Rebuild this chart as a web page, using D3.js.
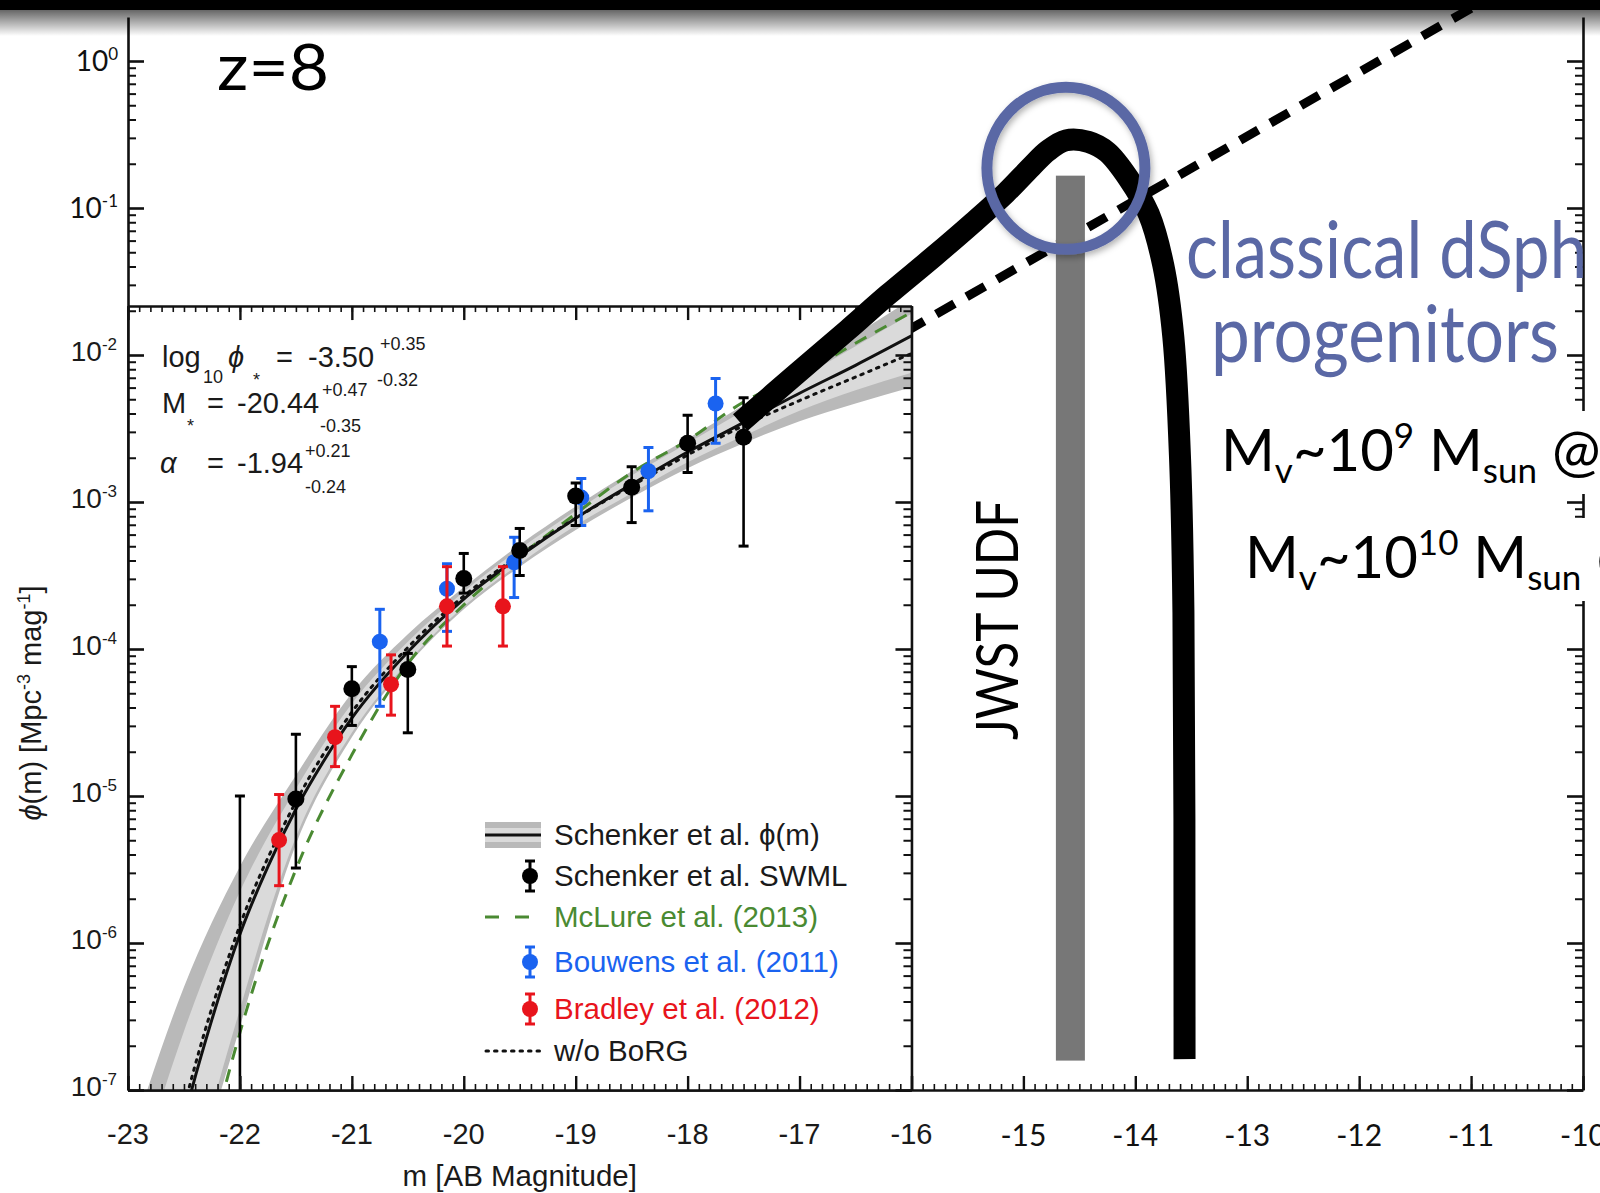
<!DOCTYPE html>
<html>
<head>
<meta charset="utf-8">
<script src="https://cdnjs.cloudflare.com/ajax/libs/d3/7.8.5/d3.min.js"></script>
<style>
  body { margin: 0; background: #fff; }
  svg { display: block; }
</style>
</head>
<body>
<div id="chart"></div>
<script>
// ---- data (log10 of phi) ----
// Schenker et al. SWML
const swmlM   = [-22.0, -21.5, -21.0, -20.5, -20.0, -19.5, -19.0, -18.5, -18.0, -17.5];
const swmlLog = [null, -5.02, -4.27, -4.14, -3.52, -3.33, -2.96, -2.90, -2.60, -2.56];
const swmlHi  = [-5.0, -4.58, -4.12, -4.03, -3.35, -3.18, -2.87, -2.76, -2.41, -2.29];
const swmlLo  = [-7.6, -5.49, -4.52, -4.57, -3.62, -3.50, -3.16, -3.14, -2.80, -3.30];

// Bouwens et al. (2011)
const bouwensM   = [-20.75, -20.15, -19.55, -18.95, -18.35, -17.75];
const bouwensLog = [-3.95, -3.59, -3.41, -2.97, -2.79, -2.33];
const bouwensHi  = [-3.73, -3.42, -3.24, -2.84, -2.63, -2.16];
const bouwensLo  = [-4.39, -3.88, -3.65, -3.16, -3.06, -2.60];

// Bradley et al. (2012)
const bradleyM   = [-21.65, -21.15, -20.65, -20.15, -19.65];
const bradleyLog = [-5.30, -4.60, -4.24, -3.71, -3.71];
const bradleyHi  = [-4.99, -4.39, -4.04, -3.44, -3.44];
const bradleyLo  = [-5.61, -4.80, -4.45, -3.98, -3.98];

// Schenker et al. phi(m) best fit
const fitM   = [-23, -22.75, -22.5, -22.25, -22, -21.75, -21.5, -21.25, -21, -20.5, -20, -19.5, -19, -18.5, -18, -17.5, -17, -16.5, -16];
const fitLog = [-9.1, -8.05, -7.2, -6.52, -5.94, -5.48, -5.09, -4.76, -4.47, -4.02, -3.66, -3.37, -3.11, -2.88, -2.66, -2.46, -2.26, -2.07, -1.87];

// uncertainty bands
const bandM   = [-23, -22.5, -22, -21.5, -21, -20.5, -20, -19.5, -19, -18.5, -18, -17.5, -17, -16.5, -16];
const outerHi = [-7.4, -6.3, -5.48, -4.86, -4.30, -3.90, -3.58, -3.29, -3.03, -2.79, -2.57, -2.34, -2.10, -1.86, -1.62];
const innerHi = [-7.8, -6.6, -5.65, -4.95, -4.37, -3.95, -3.61, -3.32, -3.06, -2.82, -2.60, -2.38, -2.16, -1.94, -1.72];
const innerLo = [-10.0, -7.9, -6.45, -5.28, -4.57, -4.09, -3.71, -3.42, -3.16, -2.94, -2.73, -2.55, -2.38, -2.24, -2.12];
const outerLo = [-10.4, -8.0, -6.57, -5.33, -4.60, -4.11, -3.73, -3.44, -3.19, -2.97, -2.77, -2.60, -2.45, -2.33, -2.22];

// McLure et al. (2013)
const mclureM   = [-22.4, -22.2, -22, -21.5, -21, -20.5, -20, -19.5, -19, -18.5, -18, -17.5, -17, -16.5, -16];
const mclureLog = [-7.86, -7.18, -6.61, -5.50, -4.72, -4.10, -3.70, -3.37, -3.08, -2.80, -2.58, -2.32, -2.14, -1.92, -1.71];

// w/o BoRG
const noBorgM   = [-23, -22.5, -22, -21.5, -21, -20.5, -20, -19.5, -19, -18.5, -18, -17.5, -17, -16.5, -16];
const noBorgLog = [-8.9, -7.12, -5.88, -5.04, -4.43, -3.99, -3.64, -3.36, -3.11, -2.89, -2.68, -2.48, -2.31, -2.15, -1.99];

// hand drawn extension of the luminosity function
const handM   = [-17.53, -17.03, -16.57, -16.21, -15.80, -15.45, -15.16, -14.93, -14.78, -14.62, -14.42, -14.25, -14.06, -13.88, -13.75, -13.66, -13.60, -13.57, -13.56];
const handLog = [-2.46, -2.13, -1.83, -1.59, -1.33, -1.10, -0.90, -0.72, -0.61, -0.54, -0.55, -0.62, -0.80, -1.04, -1.39, -1.88, -2.71, -3.75, -6.79];

// power-law extrapolation (dashed)
const dashM   = [-16.05, -10.4];
const dashLog = [-1.84, 0.62];

// JWST UDF limit and circled turnover
const jwstM = -14.58;
const jwstTopLog = -0.78;
const jwstBottomLog = -6.80;
const circleM = -14.62;
const circleLog = -0.73;

// tick labels
const insetXTicks = [-23, -22, -21, -20, -19, -18, -17, -16];
const outerXTicks = [-15, -14, -13, -12, -11, -10];
const insetYTicks = [-7, -6, -5, -4, -3, -2];
const outerYTicks = [0, -1];

// ---- setup ----
const W = 1600, H = 1193;
const p = v => Math.pow(10, v);
const svg = d3.select('#chart').append('svg').attr('width', W).attr('height', H)
  .style('font-family', 'Liberation Sans, Arial, sans-serif');

const defs = svg.append('defs');
const grad = defs.append('linearGradient').attr('id', 'topShade').attr('x1', 0).attr('x2', 0).attr('y1', 0).attr('y2', 1);
grad.append('stop').attr('offset', 0).attr('stop-color', '#000').attr('stop-opacity', 0.6);
grad.append('stop').attr('offset', 1).attr('stop-color', '#000').attr('stop-opacity', 0);
defs.append('filter').attr('id', 'soft').attr('x', '-20%').attr('y', '-20%').attr('width', '140%').attr('height', '140%')
  .append('feDropShadow').attr('dx', 2).attr('dy', 3).attr('stdDeviation', 3).attr('flood-opacity', 0.3);

const x = d3.scaleLinear().domain([-23, -10]).range([128, 1583]);
const y = d3.scaleLog().domain([1e-7, 1]).range([1090, 61]);
const yOuter = d3.scaleLog().domain([1e-7, p(0.3)]).range([y(1e-7), y(p(0.3))]);

const insetTop = p(-1.667);
const xi = d3.scaleLinear().domain([-23, -16]).range([x(-23), x(-16)]);
const yi = d3.scaleLog().domain([1e-7, insetTop]).range([y(1e-7), y(insetTop)]);

function logTicks(lo, hi, maxVal) {
  const major = [], minor = [];
  for (let k = lo; k <= hi; k++) {
    major.push(p(k));
    for (let j = 2; j <= 9; j++) if (j * p(k) <= maxVal) minor.push(j * p(k));
  }
  return { major: major.filter(v => v <= maxVal), minor };
}
const tenths = (a, b) => d3.range(Math.round(a * 10), Math.round(b * 10) + 1).map(i => i / 10);

function styleAxis(g, w) {
  g.selectAll('line').attr('stroke', '#111').attr('stroke-width', w);
  g.selectAll('path').attr('stroke', '#111').attr('stroke-width', 2.6);
}

// ---- outer frame ----
const outer = svg.append('g');
const oy = logTicks(-7, 0, p(0.3));
outer.append('g').attr('transform', `translate(${x(-23)},0)`)
  .call(d3.axisLeft(yOuter).tickValues(oy.major).tickSize(-16).tickSizeOuter(0).tickFormat(''))
  .call(g => styleAxis(g, 2.6));
outer.append('g').attr('transform', `translate(${x(-23)},0)`)
  .call(d3.axisLeft(yOuter).tickValues(oy.minor).tickSize(-8).tickSizeOuter(0).tickFormat(''))
  .call(g => g.select('.domain').remove()).call(g => styleAxis(g, 2));
outer.append('g').attr('transform', `translate(${x(-10)},0)`)
  .call(d3.axisRight(yOuter).tickValues(oy.major).tickSize(-16).tickSizeOuter(0).tickFormat(''))
  .call(g => styleAxis(g, 2.6));
outer.append('g').attr('transform', `translate(${x(-10)},0)`)
  .call(d3.axisRight(yOuter).tickValues(oy.minor).tickSize(-8).tickSizeOuter(0).tickFormat(''))
  .call(g => g.select('.domain').remove()).call(g => styleAxis(g, 2));
outer.append('g').attr('transform', `translate(0,${y(1e-7)})`)
  .call(d3.axisBottom(x).tickValues(d3.range(-23, -9, 1)).tickSize(-14).tickSizeOuter(0).tickFormat(''))
  .call(g => styleAxis(g, 2.4));
outer.append('g').attr('transform', `translate(0,${y(1e-7)})`)
  .call(d3.axisBottom(x).tickValues(tenths(-23, -10)).tickSize(-6).tickSizeOuter(0).tickFormat(''))
  .call(g => g.select('.domain').remove()).call(g => styleAxis(g, 1.6));

// outer y labels
outer.selectAll('.oylab').data(outerYTicks).join('text')
  .attr('x', 118).attr('y', d => y(p(d)) + 10)
  .attr('text-anchor', 'end').style('font-family', 'Lato, sans-serif').style('font-size', '28px').attr('fill', '#111')
  .call(t => {
    t.append('tspan').text('10');
    t.append('tspan').attr('dy', -11).style('font-size', '17px').text(d => d);
  });

// outer x labels
outer.selectAll('.oxlab').data(outerXTicks).join('text')
  .attr('x', d => x(d)).attr('y', 1146).attr('text-anchor', 'middle')
  .style('font-family', 'Lato, sans-serif').style('font-size', '30px').attr('fill', '#111')
  .text(d => `${d}`);

// ---- dashed extrapolation and JWST limit ----
const lineXY = d3.line().x(d => x(d[0])).y(d => y(p(d[1])));
svg.append('path')
  .attr('d', lineXY(dashM.map((m, i) => [m, dashLog[i]])))
  .attr('fill', 'none').attr('stroke', '#000').attr('stroke-width', 9).attr('stroke-dasharray', '21 14');

svg.append('rect')
  .attr('x', x(jwstM) - 14.5).attr('width', 29)
  .attr('y', y(p(jwstTopLog))).attr('height', y(p(jwstBottomLog)) - y(p(jwstTopLog)))
  .attr('fill', '#777');

// ---- inset: Schenker et al. figure ----
const inset = svg.append('g');
const [ix0, ix1] = xi.range();
const [iy1, iy0] = yi.range();
inset.append('rect').attr('x', ix0).attr('y', iy0).attr('width', ix1 - ix0).attr('height', iy1 - iy0).attr('fill', '#fff');
defs.append('clipPath').attr('id', 'insetClip')
  .append('rect').attr('x', ix0).attr('y', iy0).attr('width', ix1 - ix0).attr('height', iy1 - iy0);
const plot = inset.append('g').attr('clip-path', 'url(#insetClip)');

const band = (hi, lo) => d3.area().curve(d3.curveMonotoneX)
  .x((d, i) => xi(bandM[i])).y0((d, i) => yi(p(lo[i]))).y1((d, i) => yi(p(hi[i])));
plot.append('path').attr('d', band(outerHi, outerLo)(bandM)).attr('fill', '#b9b9b9');
plot.append('path').attr('d', band(innerHi, innerLo)(bandM)).attr('fill', '#dadada');

const curve = (ms, vs) => d3.line().curve(d3.curveMonotoneX).x(d => xi(d[0])).y(d => yi(p(d[1])))(ms.map((m, i) => [m, vs[i]]));
plot.append('path').attr('d', curve(mclureM, mclureLog))
  .attr('fill', 'none').attr('stroke', '#4a8a32').attr('stroke-width', 3).attr('stroke-dasharray', '13 10');
plot.append('path').attr('d', curve(noBorgM, noBorgLog))
  .attr('fill', 'none').attr('stroke', '#111').attr('stroke-width', 3).attr('stroke-dasharray', '2.5 6').attr('stroke-linecap', 'round');
plot.append('path').attr('d', curve(fitM, fitLog))
  .attr('fill', 'none').attr('stroke', '#111').attr('stroke-width', 3);

function drawPoints(ms, vals, his, los, color, r, bw) {
  const rows = ms.map((m, i) => ({ m, v: vals[i], hi: his[i], lo: los[i] }));
  const g = plot.append('g').selectAll('g').data(rows).join('g');
  g.append('line').attr('x1', d => xi(d.m)).attr('x2', d => xi(d.m))
    .attr('y1', d => yi(p(d.hi))).attr('y2', d => yi(p(d.lo))).attr('stroke', color).attr('stroke-width', bw);
  g.append('line').attr('x1', d => xi(d.m) - 5).attr('x2', d => xi(d.m) + 5)
    .attr('y1', d => yi(p(d.hi))).attr('y2', d => yi(p(d.hi))).attr('stroke', color).attr('stroke-width', 3);
  g.append('line').attr('x1', d => xi(d.m) - 5).attr('x2', d => xi(d.m) + 5)
    .attr('y1', d => yi(p(d.lo))).attr('y2', d => yi(p(d.lo))).attr('stroke', color).attr('stroke-width', 3);
  g.filter(d => d.v !== null).append('circle')
    .attr('cx', d => xi(d.m)).attr('cy', d => yi(p(d.v))).attr('r', r).attr('fill', color);
}
drawPoints(bouwensM, bouwensLog, bouwensHi, bouwensLo, '#1a63f0', 8, 3);
drawPoints(bradleyM, bradleyLog, bradleyHi, bradleyLo, '#e8141c', 8, 3);
drawPoints(swmlM, swmlLog, swmlHi, swmlLo, '#000', 8.5, 2.6);

// inset axes
const iyt = logTicks(-7, -2, insetTop);
const iAxes = inset.append('g');
iAxes.append('g').attr('transform', `translate(0,${iy1})`)
  .call(d3.axisBottom(xi).tickValues(insetXTicks).tickSize(-14).tickSizeOuter(0).tickFormat(''))
  .call(g => styleAxis(g, 2.4));
iAxes.append('g').attr('transform', `translate(0,${iy1})`)
  .call(d3.axisBottom(xi).tickValues(tenths(-23, -16)).tickSize(-6).tickSizeOuter(0).tickFormat(''))
  .call(g => g.select('.domain').remove()).call(g => styleAxis(g, 1.6));
iAxes.append('g').attr('transform', `translate(0,${iy0})`)
  .call(d3.axisTop(xi).tickValues(insetXTicks).tickSize(-14).tickSizeOuter(0).tickFormat(''))
  .call(g => styleAxis(g, 2.4));
iAxes.append('g').attr('transform', `translate(0,${iy0})`)
  .call(d3.axisTop(xi).tickValues(tenths(-23, -16)).tickSize(-6).tickSizeOuter(0).tickFormat(''))
  .call(g => g.select('.domain').remove()).call(g => styleAxis(g, 1.6));
iAxes.append('g').attr('transform', `translate(${ix0},0)`)
  .call(d3.axisLeft(yi).tickValues(iyt.major).tickSize(-16).tickSizeOuter(0).tickFormat(''))
  .call(g => styleAxis(g, 2.6));
iAxes.append('g').attr('transform', `translate(${ix0},0)`)
  .call(d3.axisLeft(yi).tickValues(iyt.minor).tickSize(-8).tickSizeOuter(0).tickFormat(''))
  .call(g => g.select('.domain').remove()).call(g => styleAxis(g, 2));
iAxes.append('g').attr('transform', `translate(${ix1},0)`)
  .call(d3.axisRight(yi).tickValues(iyt.major).tickSize(-16).tickSizeOuter(0).tickFormat(''))
  .call(g => styleAxis(g, 2.6));
iAxes.append('g').attr('transform', `translate(${ix1},0)`)
  .call(d3.axisRight(yi).tickValues(iyt.minor).tickSize(-8).tickSizeOuter(0).tickFormat(''))
  .call(g => g.select('.domain').remove()).call(g => styleAxis(g, 2));

// inset tick labels
inset.selectAll('.ixlab').data(insetXTicks).join('text')
  .attr('x', d => xi(d)).attr('y', 1144).attr('text-anchor', 'middle')
  .style('font-size', '29px').attr('fill', '#1a1a1a').text(d => `${d}`);
inset.selectAll('.iylab').data(insetYTicks).join('text')
  .attr('x', 117).attr('y', d => yi(p(d)) + 6).attr('text-anchor', 'end')
  .style('font-size', '28px').attr('fill', '#1a1a1a')
  .call(t => {
    t.append('tspan').text('10');
    t.append('tspan').attr('dy', -11).style('font-size', '17px').text(d => `${d}`);
  });

inset.append('text').attr('x', (ix0 + ix1) / 2).attr('y', 1186).attr('text-anchor', 'middle')
  .style('font-size', '29.5px').attr('fill', '#1a1a1a').text('m [AB Magnitude]');

const yt = inset.append('text').attr('transform', 'translate(41,703) rotate(-90)')
  .attr('text-anchor', 'middle').style('font-size', '29px').attr('fill', '#1a1a1a');
yt.append('tspan').style('font-style', 'italic').text('ϕ');
yt.append('tspan').text('(m) [Mpc');
yt.append('tspan').attr('dy', -11).style('font-size', '18px').text('-3');
yt.append('tspan').attr('dy', 11).text(' mag');
yt.append('tspan').attr('dy', -11).style('font-size', '18px').text('-1');
yt.append('tspan').attr('dy', 11).text(']');

// fitted parameters
const par = inset.append('g').attr('fill', '#1a1a1a').style('font-size', '29px');
function parText(px, py, s, size, style) {
  const t = par.append('text').attr('x', px).attr('y', py).text(s);
  if (size) t.style('font-size', size + 'px');
  if (style) t.style('font-style', style);
  return t;
}
parText(162, 367, 'log');
parText(203, 383, '10', 18);
parText(228, 367, 'ϕ', 29, 'italic');
parText(253, 386, '*', 18);
parText(276, 367, '=');
parText(308, 367, '-3.50');
parText(380, 350, '+0.35', 18);
parText(377, 386, '-0.32', 18);
parText(162, 413, 'M');
parText(187, 432, '*', 18);
parText(207, 413, '=');
parText(237, 413, '-20.44');
parText(322, 396, '+0.47', 18);
parText(320, 432, '-0.35', 18);
parText(160, 473, 'α', 29, 'italic');
parText(207, 473, '=');
parText(237, 473, '-1.94');
parText(305, 457, '+0.21', 18);
parText(305, 493, '-0.24', 18);

// legend
const leg = inset.append('g').style('font-size', '29.5px');
const legRows = [
  { label: 'Schenker et al. ϕ(m)', color: '#1a1a1a', kind: 'band', y: 835 },
  { label: 'Schenker et al. SWML', color: '#1a1a1a', kind: 'dot', sym: '#000', y: 876 },
  { label: 'McLure et al. (2013)', color: '#4a8a32', kind: 'dash', y: 917 },
  { label: 'Bouwens et al. (2011)', color: '#1a63f0', kind: 'dot', sym: '#1a63f0', y: 962 },
  { label: 'Bradley et al. (2012)', color: '#e8141c', kind: 'dot', sym: '#e8141c', y: 1009 },
  { label: 'w/o BoRG', color: '#1a1a1a', kind: 'dots', y: 1051 }
];
legRows.forEach(r => {
  const g = leg.append('g');
  if (r.kind === 'band') {
    g.append('rect').attr('x', 485).attr('y', r.y - 13).attr('width', 56).attr('height', 26).attr('fill', '#b9b9b9');
    g.append('rect').attr('x', 485).attr('y', r.y - 7).attr('width', 56).attr('height', 14).attr('fill', '#dadada');
    g.append('line').attr('x1', 485).attr('x2', 541).attr('y1', r.y).attr('y2', r.y).attr('stroke', '#111').attr('stroke-width', 3);
  } else if (r.kind === 'dot') {
    g.append('line').attr('x1', 530).attr('x2', 530).attr('y1', r.y - 15).attr('y2', r.y + 15).attr('stroke', r.sym).attr('stroke-width', 3);
    g.append('line').attr('x1', 525).attr('x2', 535).attr('y1', r.y - 15).attr('y2', r.y - 15).attr('stroke', r.sym).attr('stroke-width', 3);
    g.append('line').attr('x1', 525).attr('x2', 535).attr('y1', r.y + 15).attr('y2', r.y + 15).attr('stroke', r.sym).attr('stroke-width', 3);
    g.append('circle').attr('cx', 530).attr('cy', r.y).attr('r', 8).attr('fill', r.sym);
  } else if (r.kind === 'dash') {
    g.append('line').attr('x1', 485).attr('x2', 530).attr('y1', r.y).attr('y2', r.y)
      .attr('stroke', '#4a8a32').attr('stroke-width', 3).attr('stroke-dasharray', '14 16');
  } else {
    g.append('line').attr('x1', 486).attr('x2', 541).attr('y1', r.y).attr('y2', r.y)
      .attr('stroke', '#111').attr('stroke-width', 3).attr('stroke-dasharray', '2.5 6').attr('stroke-linecap', 'round');
  }
  g.append('text').attr('x', 554).attr('y', r.y + 10).attr('fill', r.color).text(r.label);
});

// ---- hand drawn curve and circle ----
svg.append('path')
  .attr('d', d3.line().curve(d3.curveCatmullRom.alpha(0.5)).x(d => x(d[0])).y(d => y(p(d[1])))(handM.map((m, i) => [m, handLog[i]])))
  .attr('fill', 'none').attr('stroke', '#000').attr('stroke-width', 22).attr('stroke-linejoin', 'round');

svg.append('ellipse')
  .attr('cx', x(circleM)).attr('cy', y(p(circleLog))).attr('rx', 79).attr('ry', 81)
  .attr('fill', 'none').attr('stroke', '#5a68a5').attr('stroke-width', 11).attr('filter', 'url(#soft)');

// ---- annotations ----
const ann = svg.append('g').style('font-family', 'Lato, sans-serif');
ann.append('text').attr('x', 217).attr('y', 90).style('font-size', '64px').attr('fill', '#000')
  .attr('textLength', 112).attr('lengthAdjust', 'spacingAndGlyphs').text('z=8');

ann.append('text').attr('transform', 'translate(1018,620) rotate(-90)').attr('text-anchor', 'middle')
  .style('font-size', '58px').attr('fill', '#000')
  .attr('textLength', 240).attr('lengthAdjust', 'spacingAndGlyphs').text('JWST UDF');

ann.append('text').attr('x', 1186).attr('y', 278).style('font-size', '80px').attr('fill', '#5a68a5')
  .attr('textLength', 401).attr('lengthAdjust', 'spacingAndGlyphs').text('classical dSph');
ann.append('text').attr('x', 1211).attr('y', 362).style('font-size', '80px').attr('fill', '#5a68a5')
  .attr('textLength', 348).attr('lengthAdjust', 'spacingAndGlyphs').text('progenitors');

function massText(tx, ty, expo) {
  const box = ann.append('rect').attr('fill', '#fff');
  const t = ann.append('text').attr('x', tx).attr('y', ty).style('font-size', '58px').attr('fill', '#000');
  t.append('tspan').text('M');
  t.append('tspan').attr('dy', 12).style('font-size', '35px').text('v');
  t.append('tspan').attr('dy', -12).text('~10');
  t.append('tspan').attr('dy', -23).style('font-size', '35px').text(expo);
  t.append('tspan').attr('dy', 23).text(' M');
  t.append('tspan').attr('dy', 12).style('font-size', '35px').text('sun');
  t.append('tspan').attr('dy', -12).text(' @');
  const b = t.node().getBBox();
  box.attr('x', b.x - 6).attr('y', b.y - 2).attr('width', W - b.x + 6).attr('height', b.height + 6);
}
massText(1221, 471, '9');
massText(1245, 578, '10');

// ---- slide edge at the top ----
svg.append('rect').attr('x', 0).attr('y', 10).attr('width', W).attr('height', 26).attr('fill', 'url(#topShade)');
svg.append('rect').attr('x', 0).attr('y', 0).attr('width', W).attr('height', 10).attr('fill', '#000');
</script>
</body>
</html>
